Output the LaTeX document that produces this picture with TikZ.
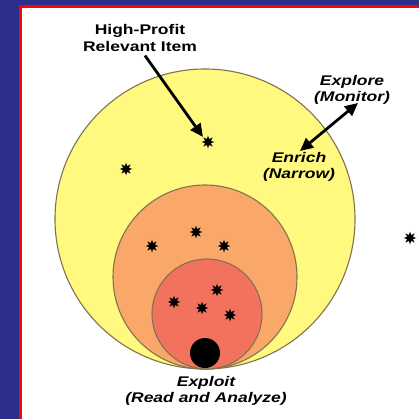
\documentclass[tikz,border=0pt]{standalone}
\usepackage{fontspec}
\setmainfont[FakeStretch=1.25]{Liberation Sans}
\usetikzlibrary{shapes.geometric}
\usetikzlibrary{arrows.meta}
\definecolor{slideblue}{RGB}{44,46,140}
\definecolor{ringY}{RGB}{255,249,128}
\definecolor{ringO}{RGB}{249,168,106}
\definecolor{ringR}{RGB}{242,114,94}
\definecolor{ringline}{RGB}{130,115,80}
\tikzset{
  item/.style={star, star points=8, star point ratio=2.1, fill=black, minimum size=13pt, inner sep=0pt},
  lbl/.style={font=\fontsize{14}{16.5}\selectfont\bfseries, align=center, inner sep=1pt},
  ilbl/.style={lbl, font=\fontsize{14}{16.5}\selectfont\bfseries\itshape},
  bigarrow/.style={line width=2.8pt, -{Triangle[length=13pt,width=12pt]}}
}
\newcommand{\ring}[4]{\filldraw[fill=#1, draw=ringline, line width=1.1pt] ( #2 , #3 ) circle ( #4 );}
\begin{document}
\begin{tikzpicture}[x=1pt, y=-1pt]
        % frame
        \useasboundingbox (0,0) rectangle (419,419);
        \fill[slideblue] (0,0) rectangle (419,419);
        \fill[red] (19,5) rectangle (419,419);
        \fill[white] (22,8) rectangle (419,419);
        % circles
        \ring{ringY}{205}{219}{150}
        \ring{ringO}{205}{277}{92}
        \ring{ringR}{207}{314}{55}
        \fill[black] (205,353) circle (15);
        % items
        \node[item] (hp) at (208,142) {};
        \node[item] (s1) at (126,169) {};
        \node[item] (s2) at (196,232) {};
        \node[item] (s3) at (152,246) {};
        \node[item] (s4) at (224,246) {};
        \node[item] (s5) at (217,290) {};
        \node[item] (s6) at (174,302) {};
        \node[item] (s7) at (202,308) {};
        \node[item] (s8) at (230,315) {};
        \node[item] (s9) at (410,238) {};
        % labels
        \node[lbl] (hplbl) at (140,38) {High-Profit\\Relevant Item};
        \node[ilbl] (explore) at (352,90) {Explore\\(Monitor)};
        \node[ilbl] (enrich) at (299,167) {Enrich\\(Narrow)};
        \node[ilbl] (exploit) at (206,391) {Exploit\\(Read and Analyze)};
        % arrows
        \draw[bigarrow] (hplbl.south) ++(5,3) coordinate (a0) -- (hp.north west);
        \draw[bigarrow, {Triangle[length=13pt,width=12pt]}-{Triangle[length=13pt,width=12pt]}] ([xshift=1pt]enrich.north) -- ([xshift=6pt,yshift=3pt]explore.south);
\end{tikzpicture}
\end{document}
